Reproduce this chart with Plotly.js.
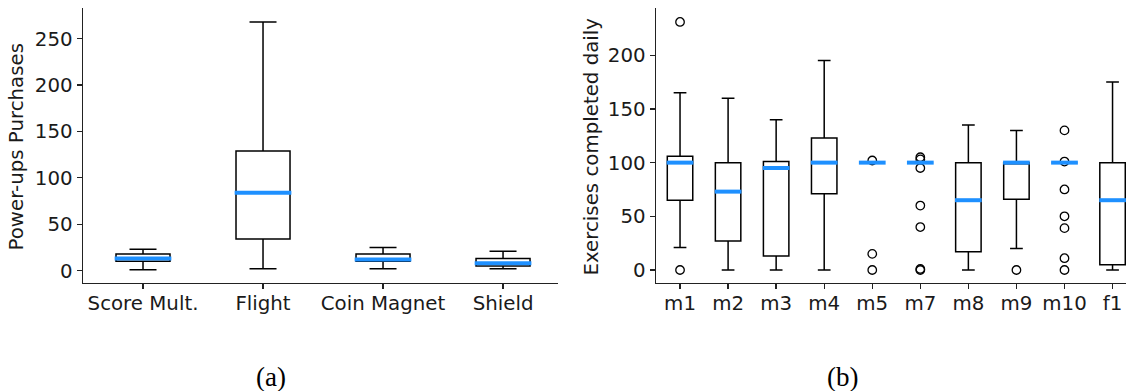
<!DOCTYPE html>
<html>
<head>
<meta charset="utf-8">
<script src="https://cdn.plot.ly/plotly-3.0.1.min.js"></script>
<style>html,body{margin:0;padding:0;background:#fff;}#chart{width:1126px;height:391px;}</style>
</head>
<body>
<div id="chart"></div>
<script>
// ---- Panel (a) data ----
const catsA = ['Score Mult.', 'Flight', 'Coin Magnet', 'Shield'];
const lowA  = [1, 2, 2, 2];
const q1A   = [10, 34, 10, 5];
const medA  = [13, 84, 12, 8];
const q3A   = [18, 129, 18, 13];
const highA = [23, 268, 25, 21];

// ---- Panel (b) data ----
const catsB = ['m1', 'm2', 'm3', 'm4', 'm5', 'm7', 'm8', 'm9', 'm10', 'f1'];
const lowB  = [21, 0, 0, 0, 100, 100, 0, 20, 100, 0];
const q1B   = [65, 27, 13, 71, 100, 100, 17, 66, 100, 5];
const medB  = [100, 73, 95, 100, 100, 100, 65, 100, 100, 65];
const q3B   = [106, 100, 101, 123, 100, 100, 100, 100, 100, 100];
const highB = [165, 160, 140, 195, 100, 100, 135, 130, 100, 175];
const outCatB = ['m1', 'm1', 'm5', 'm5', 'm5', 'm7', 'm7', 'm7', 'm7', 'm7', 'm7', 'm7', 'm9',
                 'm10', 'm10', 'm10', 'm10', 'm10', 'm10', 'm10'];
const outValB = [231, 0, 102, 15, 0, 105, 103, 95, 60, 40, 1, 0, 0,
                 130, 101, 75, 50, 39, 11, 0];

const W = 1126, H = 391;
const FONT = 'DejaVu Sans, sans-serif';
const TXT = '#1a1a1a';
const MEDC = '#1E90FF';
const FS = 19.8;
const widthA = 0.45, widthB = 0.53;

function idx(arr) { return arr.map((_, i) => i); }

function boxTrace(cats, lo, q1, med, q3, hi, w, xa, ya) {
  return {
    type: 'box', xaxis: xa, yaxis: ya,
    x: idx(cats), q1: q1, median: med, q3: q3, lowerfence: lo, upperfence: hi,
    width: w, whiskerwidth: 0.5, boxpoints: false,
    line: {color: '#000', width: 1.5}, fillcolor: 'rgba(0,0,0,0)',
    showlegend: false, hoverinfo: 'skip'
  };
}
function medTrace(cats, med, w, xa, ya) {
  const xs = [], ys = [];
  const hw = w / 2 * 1.05;
  med.forEach((m, i) => { xs.push(i - hw, i + hw, null); ys.push(m, m, null); });
  return {
    type: 'scatter', mode: 'lines', xaxis: xa, yaxis: ya,
    x: xs, y: ys, line: {color: MEDC, width: 4},
    showlegend: false, hoverinfo: 'skip'
  };
}

const traces = [
  boxTrace(catsA, lowA, q1A, medA, q3A, highA, widthA, 'x', 'y'),
  boxTrace(catsB, lowB, q1B, medB, q3B, highB, widthB, 'x2', 'y2'),
  {
    type: 'scatter', mode: 'markers', xaxis: 'x2', yaxis: 'y2',
    x: outCatB.map(c => catsB.indexOf(c)), y: outValB,
    marker: {symbol: 'circle-open', size: 8.5, color: '#000', line: {width: 1.3, color: '#000'}},
    showlegend: false, hoverinfo: 'skip'
  },
  medTrace(catsA, medA, widthA, 'x', 'y'),
  medTrace(catsB, medB, widthB, 'x2', 'y2')
];

const yDom = [1 - 283 / H, 1 - 8 / H];
const axisCommon = {
  showgrid: false, zeroline: false, showline: true, linecolor: '#222', linewidth: 1.4,
  ticks: 'outside', ticklen: 5, tickwidth: 1.3, tickcolor: '#222',
  tickfont: {family: FONT, size: FS, color: TXT}, fixedrange: true
};

const layout = {
  width: W, height: H,
  margin: {l: 0, r: 0, t: 0, b: 0},
  paper_bgcolor: '#fff', plot_bgcolor: '#fff',
  showlegend: false,
  xaxis: Object.assign({}, axisCommon, {
    domain: [83 / W, 558 / W], range: [-0.5, 3.458], ticklabelstandoff: -3,
    tickmode: 'array', tickvals: idx(catsA), ticktext: catsA, anchor: 'y'
  }),
  yaxis: Object.assign({}, axisCommon, {
    domain: yDom, range: [-13.3, 283], tickvals: [0, 50, 100, 150, 200, 250], anchor: 'x'
  }),
  xaxis2: Object.assign({}, axisCommon, {
    domain: [656 / W, 1], range: [-0.5, 9.28], ticklabelstandoff: -3,
    tickmode: 'array', tickvals: idx(catsB), ticktext: catsB, anchor: 'y2'
  }),
  yaxis2: Object.assign({}, axisCommon, {
    domain: yDom, range: [-12.1, 244], tickvals: [0, 50, 100, 150, 200], anchor: 'x2'
  }),
  annotations: [
    {text: 'Power-ups Purchases', xref: 'paper', yref: 'paper', x: 16.5 / W, y: 1 - 147 / H,
     xanchor: 'center', yanchor: 'middle', textangle: -90, showarrow: false,
     font: {family: FONT, size: FS, color: TXT}},
    {text: 'Exercises completed daily', xref: 'paper', yref: 'paper', x: 591.5 / W, y: 1 - 147 / H,
     xanchor: 'center', yanchor: 'middle', textangle: -90, showarrow: false,
     font: {family: FONT, size: FS, color: TXT}},
    {text: '(a)', xref: 'paper', yref: 'paper', x: 270.5 / W, y: 1 - 377 / H,
     xanchor: 'center', yanchor: 'middle', showarrow: false,
     font: {family: 'Liberation Serif, Times New Roman, serif', size: 27, color: '#000'}},
    {text: '(b)', xref: 'paper', yref: 'paper', x: 842 / W, y: 1 - 377 / H,
     xanchor: 'center', yanchor: 'middle', showarrow: false,
     font: {family: 'Liberation Serif, Times New Roman, serif', size: 27, color: '#000'}}
  ]
};

Plotly.newPlot('chart', traces, layout, {displayModeBar: false, staticPlot: true});
</script>
</body>
</html>
